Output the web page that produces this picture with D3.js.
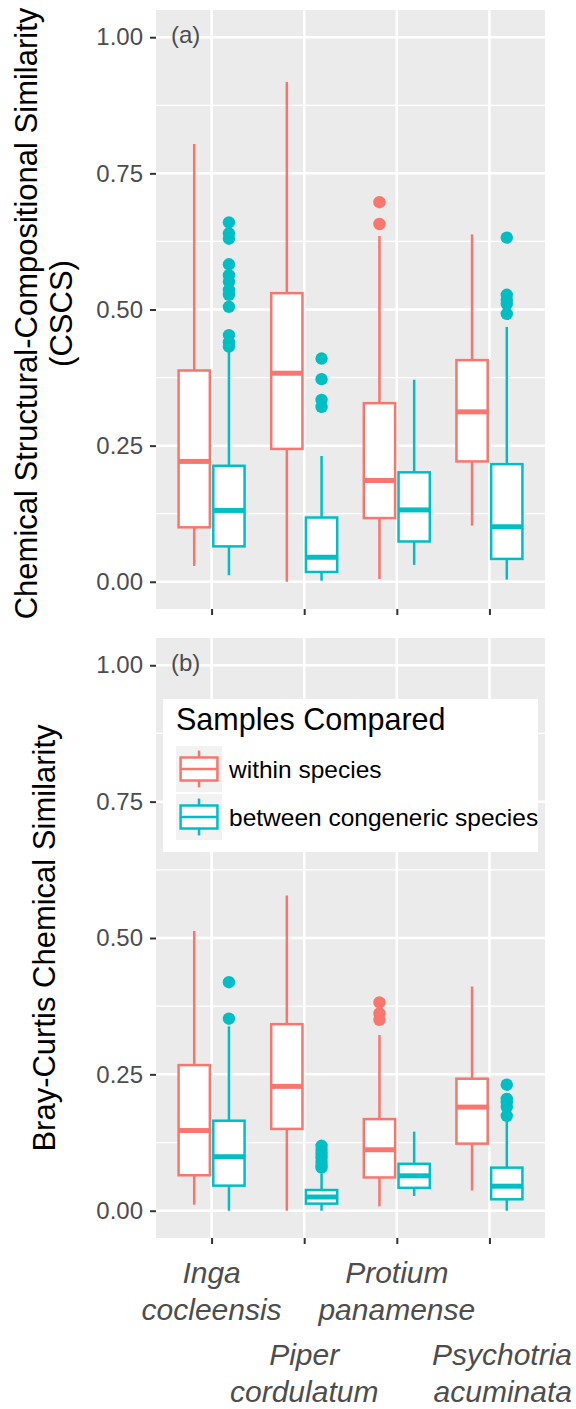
<!DOCTYPE html>
<html>
<head>
<meta charset="utf-8">
<script src="https://cdn.jsdelivr.net/npm/d3@7"></script>
<style>
  body { margin: 0; background: #fff; }
  svg { display: block; font-family: "Liberation Sans", Arial, sans-serif; }
</style>
</head>
<body>
<svg id="chart" width="576" height="1409"></svg>
<script>
// categories and groups
const categories = ["Inga cocleensis", "Piper cordulatum", "Protium panamense", "Psychotria acuminata"];
const labelLines = [["Inga", "cocleensis"], ["Piper", "cordulatum"], ["Protium", "panamense"], ["Psychotria", "acuminata"]];
const groups = ["within species", "between congeneric species"];
const groupColors = ["#F8766D", "#00BFC4"];
const yTicks = [0, 0.25, 0.5, 0.75, 1];
const yMinor = [0.125, 0.375, 0.625, 0.875];

// box stats: [lower whisker, Q1, median, Q3, upper whisker]
const cscsWithin = [
  [0.029, 0.100, 0.221, 0.388, 0.804],
  [0.000, 0.244, 0.383, 0.530, 0.918],
  [0.005, 0.117, 0.186, 0.328, 0.635],
  [0.103, 0.221, 0.312, 0.407, 0.638]
];
const cscsBetween = [
  [0.012, 0.065, 0.131, 0.213, 0.428],
  [0.002, 0.018, 0.045, 0.118, 0.231],
  [0.031, 0.074, 0.132, 0.201, 0.371],
  [0.004, 0.042, 0.101, 0.216, 0.468]
];
const cscsWithinOut = [[], [], [0.697, 0.657], []];
const cscsBetweenOut = [
  [0.660, 0.640, 0.630, 0.583, 0.563, 0.551, 0.536, 0.527, 0.505, 0.453, 0.440, 0.432],
  [0.410, 0.372, 0.334, 0.321],
  [],
  [0.632, 0.527, 0.518, 0.510, 0.492]
];

const brayWithin = [
  [0.011, 0.065, 0.147, 0.267, 0.513],
  [0.000, 0.150, 0.228, 0.342, 0.578],
  [0.008, 0.061, 0.112, 0.168, 0.322],
  [0.037, 0.123, 0.190, 0.242, 0.411]
];
const brayBetween = [
  [0.000, 0.046, 0.099, 0.165, 0.338],
  [0.000, 0.013, 0.025, 0.038, 0.068],
  [0.027, 0.042, 0.064, 0.086, 0.145],
  [0.000, 0.021, 0.045, 0.079, 0.164]
];
const brayWithinOut = [[], [], [0.382, 0.362, 0.350], []];
const brayBetweenOut = [
  [0.419, 0.352],
  [0.119, 0.112, 0.104, 0.097, 0.090, 0.083, 0.079],
  [],
  [0.231, 0.205, 0.199, 0.190, 0.174]
];

const svg = d3.select("#chart");
const panelLeft = 156, panelRight = 545;

const x = d3.scalePoint().domain(categories).range([panelLeft, panelRight]).padding(0.6);
const step = x.step();
const dodge = step * 0.1875;
const boxW = step * 0.3375;

function drawPanel(top, bottom, stats, outs, tag, showLabels) {
  const y = d3.scaleLinear().domain([-0.05, 1.05]).range([bottom, top]);
  const g = svg.append("g");

  g.append("rect")
    .attr("x", panelLeft).attr("y", top)
    .attr("width", panelRight - panelLeft).attr("height", bottom - top)
    .attr("fill", "#EBEBEB");

  // grid
  g.selectAll(".minor").data(yMinor).join("line")
    .attr("x1", panelLeft).attr("x2", panelRight)
    .attr("y1", d => y(d)).attr("y2", d => y(d))
    .attr("stroke", "#fff").attr("stroke-width", 1.2);
  g.selectAll(".major").data(yTicks).join("line")
    .attr("x1", panelLeft).attr("x2", panelRight)
    .attr("y1", d => y(d)).attr("y2", d => y(d))
    .attr("stroke", "#fff").attr("stroke-width", 2.5);
  g.selectAll(".vgrid").data(categories).join("line")
    .attr("x1", d => x(d)).attr("x2", d => x(d))
    .attr("y1", top).attr("y2", bottom)
    .attr("stroke", "#fff").attr("stroke-width", 2.5);

  // y axis
  const yAxis = g.append("g")
    .attr("transform", `translate(${panelLeft},0)`)
    .call(d3.axisLeft(y).tickValues(yTicks).tickFormat(d3.format(".2f")).tickSize(6).tickPadding(7));
  yAxis.select(".domain").remove();
  yAxis.selectAll(".tick line").attr("stroke", "#333").attr("stroke-width", 2);
  yAxis.selectAll(".tick text").attr("fill", "#4D4D4D").attr("font-size", 24)
    .attr("font-family", "Liberation Sans, Arial, sans-serif");

  // x axis ticks
  const xAxis = g.append("g")
    .attr("transform", `translate(0,${bottom})`)
    .call(d3.axisBottom(x).tickSize(6).tickFormat(""));
  xAxis.select(".domain").remove();
  xAxis.selectAll(".tick line").attr("stroke", "#333").attr("stroke-width", 2);

  // boxes
  stats.forEach((series, gi) => {
    const col = groupColors[gi];
    const off = gi === 0 ? -dodge : dodge;
    series.forEach((s, ci) => {
      const cx = x(categories[ci]) + off;
      const bg = g.append("g");
      bg.append("line")
        .attr("x1", cx).attr("x2", cx).attr("y1", y(s[3])).attr("y2", y(s[4]))
        .attr("stroke", col).attr("stroke-width", 2.5);
      bg.append("line")
        .attr("x1", cx).attr("x2", cx).attr("y1", y(s[0])).attr("y2", y(s[1]))
        .attr("stroke", col).attr("stroke-width", 2.5);
      bg.append("rect")
        .attr("x", cx - boxW / 2).attr("y", y(s[3]))
        .attr("width", boxW).attr("height", y(s[1]) - y(s[3]))
        .attr("fill", "#fff").attr("stroke", col).attr("stroke-width", 2.5);
      bg.append("line")
        .attr("x1", cx - boxW / 2).attr("x2", cx + boxW / 2)
        .attr("y1", y(s[2])).attr("y2", y(s[2]))
        .attr("stroke", col).attr("stroke-width", 5);
      bg.selectAll("circle").data(outs[gi][ci]).join("circle")
        .attr("cx", cx).attr("cy", d => y(d)).attr("r", 6.2)
        .attr("fill", col);
    });
  });

  g.append("text")
    .attr("x", panelLeft + 15).attr("y", y(1) + 6)
    .attr("font-size", 24).attr("fill", "#4D4D4D")
    .text(tag);

  if (showLabels) {
    labelLines.forEach((lines, i) => {
      const row = i % 2;
      let cx = x(categories[i]);
      let anchor = "middle";
      if (i === categories.length - 1) { cx = 572; anchor = "end"; }
      const t = g.append("text")
        .attr("text-anchor", anchor)
        .attr("font-size", 30).attr("font-style", "italic").attr("fill", "#4D4D4D");
      lines.forEach((ln, li) => {
        t.append("tspan").attr("x", cx)
          .attr("y", bottom + 45 + row * 82 + li * 37)
          .text(ln);
      });
    });
  }
  return y;
}

drawPanel(10, 609, [cscsWithin, cscsBetween], [cscsWithinOut, cscsBetweenOut], "(a)", false);
drawPanel(638, 1238, [brayWithin, brayBetween], [brayWithinOut, brayBetweenOut], "(b)", true);

// y axis titles
const t1 = svg.append("text")
  .attr("transform", `translate(37,${(10 + 609) / 2 + 4}) rotate(-90)`)
  .attr("text-anchor", "middle").attr("font-size", 31).attr("fill", "#000");
t1.append("tspan").attr("x", 0).attr("y", 0).text("Chemical Structural-Compositional Similarity");
t1.append("tspan").attr("x", 0).attr("y", 35).text("(CSCS)");

svg.append("text")
  .attr("transform", `translate(55,${(638 + 1238) / 2}) rotate(-90)`)
  .attr("text-anchor", "middle").attr("font-size", 31).attr("fill", "#000")
  .text("Bray-Curtis Chemical Similarity");

// legend
const lg = svg.append("g");
lg.append("rect").attr("x", 163).attr("y", 699).attr("width", 375).attr("height", 153).attr("fill", "#fff");
lg.append("text").attr("x", 176).attr("y", 730).attr("font-size", 30.5).attr("fill", "#000").text("Samples Compared");
const keySize = 46;
groups.forEach((name, i) => {
  const ky = 746 + i * 48;
  const kx = 176;
  const col = groupColors[i];
  lg.append("rect").attr("x", kx).attr("y", ky).attr("width", keySize).attr("height", keySize).attr("fill", "#F2F2F2");
  lg.append("line").attr("x1", kx + keySize / 2).attr("x2", kx + keySize / 2)
    .attr("y1", ky + keySize * 0.1).attr("y2", ky + keySize * 0.9)
    .attr("stroke", col).attr("stroke-width", 2.5);
  lg.append("rect").attr("x", kx + keySize * 0.1).attr("y", ky + keySize * 0.25)
    .attr("width", keySize * 0.8).attr("height", keySize * 0.5)
    .attr("fill", "#fff").attr("stroke", col).attr("stroke-width", 2.5);
  lg.append("line").attr("x1", kx + keySize * 0.1).attr("x2", kx + keySize * 0.9)
    .attr("y1", ky + keySize / 2).attr("y2", ky + keySize / 2)
    .attr("stroke", col).attr("stroke-width", 2.5);
  lg.append("text").attr("x", 229).attr("y", ky + keySize / 2 + 8.5)
    .attr("font-size", 24.5).attr("fill", "#000").text(name);
});
</script>
</body>
</html>
